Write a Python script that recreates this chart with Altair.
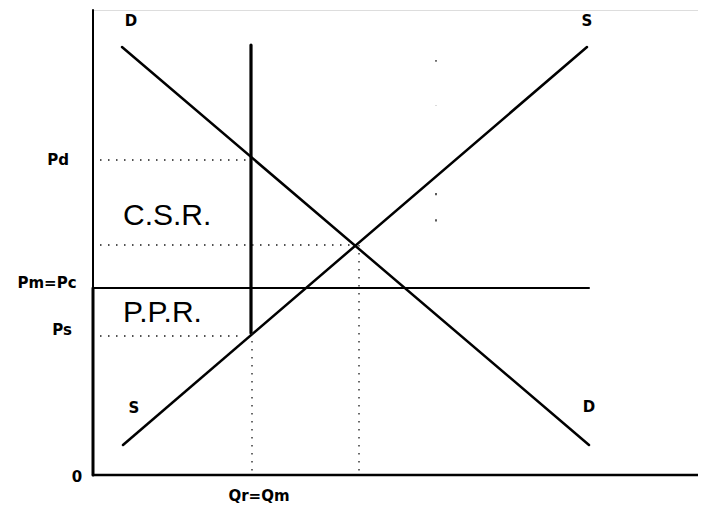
import altair as alt
import pandas as pd

# ---- data (quantity / price units) ----
demand_q = [29, 496]
demand_p = [428, 30]
supply_q = [30, 494]
supply_p = [30, 428]

P_d = 315      # Pd
P_e = 230      # equilibrium price
P_m = 187      # Pm = Pc
P_s = 139      # Ps
Q_m = 158      # Qr = Qm
Q_e = 266      # equilibrium quantity
Q_f = 343      # faint dotted guide
Q_max = 606
P_max = 465

# solid segments: x, y, x2, y2, width
solid_x1 = [demand_q[0], supply_q[0], Q_m, 0, 0, 0, 0]
solid_y1 = [demand_p[0], supply_p[0], 430, P_m, 0, 0, 0]
solid_x2 = [demand_q[1], supply_q[1], Q_m, demand_q[1], 0, 0, Q_max]
solid_y2 = [demand_p[1], supply_p[1], 142, P_m, P_max, P_m, 0]
solid_w = [2.5, 2.5, 3.2, 2.0, 2.0, 3.0, 2.5]

# dotted segments
dot_x1 = [7, 7, 7, Q_m + 1, Q_e]
dot_y1 = [P_d, P_e, P_s, 142, P_e]
dot_x2 = [157, 261, 147, Q_m + 1, Q_e]
dot_y2 = [P_d, P_e, P_s, 0, 0]

# faint sparse dotted guide (two stretches)
faint_top_y = [415, 369]
faint_low_y = [282, 230]

# labels
bold_text = ["D", "S", "S", "D", "Pd", "Pm=Pc", "Ps", "0", "Qr=Qm"]
bold_x = [38, 494, 41, 496, -35, -46, -31, -16, 166]
bold_y = [454, 454, 67, 68, P_d, 192, 145, -2, -21]

big_text = ["C.S.R.", "P.P.R."]
big_x = [30, 30]
big_y = [259, 162]

solid_df = pd.DataFrame({"x": solid_x1, "y": solid_y1, "x2": solid_x2, "y2": solid_y2, "w": solid_w})
dot_df = pd.DataFrame({"x": dot_x1, "y": dot_y1, "x2": dot_x2, "y2": dot_y2})
faint_a = pd.DataFrame({"x": [Q_f], "y": [faint_top_y[0]], "x2": [Q_f], "y2": [faint_top_y[1]]})
faint_b = pd.DataFrame({"x": [Q_f], "y": [faint_low_y[0]], "x2": [Q_f], "y2": [faint_low_y[1]]})
bold_df = pd.DataFrame({"t": bold_text, "x": bold_x, "y": bold_y})
big_df = pd.DataFrame({"t": big_text, "x": big_x, "y": big_y})

xs = alt.Scale(domain=[0, 605], nice=False, zero=False)
ys = alt.Scale(domain=[0, P_max], nice=False, zero=False)

def xenc(f="x"):
    return alt.X(f"{f}:Q", scale=xs, axis=None)

def yenc(f="y"):
    return alt.Y(f"{f}:Q", scale=ys, axis=None)

solid = alt.Chart(solid_df).mark_rule(color="black", strokeCap="round").encode(
    x=xenc(), y=yenc(), x2="x2:Q", y2="y2:Q",
    strokeWidth=alt.StrokeWidth("w:Q", scale=None, legend=None),
)

dots = alt.Chart(dot_df).mark_rule(color="#1a1a1a", strokeWidth=1.3, strokeDash=[1.5, 6.5]).encode(
    x=xenc(), y=yenc(), x2="x2:Q", y2="y2:Q"
)

faint1 = alt.Chart(faint_a).mark_rule(color="#333333", strokeWidth=1.4, strokeDash=[1.8, 44]).encode(
    x=xenc(), y=yenc(), x2="x2:Q", y2="y2:Q"
)
faint2 = alt.Chart(faint_b).mark_rule(color="#333333", strokeWidth=1.6, strokeDash=[2.2, 24]).encode(
    x=xenc(), y=yenc(), x2="x2:Q", y2="y2:Q"
)

bold = alt.Chart(bold_df).mark_text(
    font="DejaVu Sans", fontSize=15, fontWeight="bold", color="black",
    align="center", baseline="middle"
).encode(x=xenc(), y=yenc(), text="t:N")

big = alt.Chart(big_df).mark_text(
    font="Liberation Sans", fontSize=30, color="black",
    align="left", baseline="middle"
).encode(x=xenc(), y=yenc(), text="t:N")

chart = alt.layer(solid, dots, faint1, faint2, bold, big).properties(
    width=605,
    height=465,
    padding={"left": 85, "top": 2, "right": 0, "bottom": 30},
    autosize=alt.AutoSizeParams(type="none"),
).configure_view(stroke=None).configure(background="white")

chart.save("out.html", embed_options={"renderer": "svg", "actions": False})
